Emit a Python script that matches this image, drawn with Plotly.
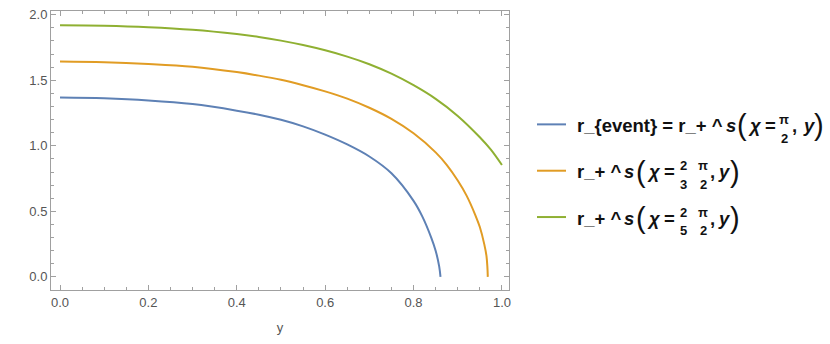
import plotly.graph_objects as go

# Curve data (x = y-coordinate, value = r)
blue_y = [0.0, 0.1, 0.2, 0.3, 0.4, 0.45, 0.5, 0.55, 0.6, 0.65, 0.7, 0.75, 0.8, 0.82,
          0.84, 0.85, 0.858, 0.861]
blue_r = [1.368, 1.362, 1.346, 1.318, 1.268, 1.237, 1.198, 1.148, 1.085, 1.010, 0.918,
          0.790, 0.58, 0.46, 0.30, 0.20, 0.08, 0.0]

orange_y = [0.0, 0.1, 0.2, 0.3, 0.4, 0.45, 0.5, 0.55, 0.6, 0.65, 0.7, 0.75, 0.8, 0.85,
            0.875, 0.9, 0.92, 0.94, 0.95, 0.96, 0.965, 0.967, 0.968]
orange_r = [1.642, 1.637, 1.624, 1.603, 1.562, 1.535, 1.503, 1.462, 1.415, 1.360, 1.290,
            1.205, 1.095, 0.950, 0.855, 0.735, 0.62, 0.47, 0.38, 0.25, 0.16, 0.08, 0.0]

green_y = [0.0, 0.1, 0.2, 0.3, 0.4, 0.45, 0.5, 0.55, 0.6, 0.65, 0.7, 0.75, 0.8, 0.85,
           0.9, 0.95, 0.975, 1.0]
green_r = [1.920, 1.916, 1.905, 1.885, 1.852, 1.830, 1.802, 1.768, 1.728, 1.680, 1.622,
           1.550, 1.462, 1.358, 1.228, 1.065, 0.970, 0.853]

colors = ["#5E81B5", "#E19C24", "#8FB032"]

FONT = "Liberation Sans, Arial, sans-serif"
AX = "#a0a0a0"

fig = go.Figure()
for xs, ys, c in [(blue_y, blue_r, colors[0]), (orange_y, orange_r, colors[1]),
                  (green_y, green_r, colors[2])]:
    fig.add_trace(go.Scatter(x=xs, y=ys, mode="lines", showlegend=False,
                             line=dict(color=c, width=2, shape="spline", smoothing=1.0)))

# plot area in pixels
L, R, T, B = 51, 509, 7, 290
def px(x):
    return (x - L) / (R - L)
def py(y):
    return (B - y) / (B - T)

annotations = []
shapes = []

def txt(text, x, y, size=18.5, bold=True, anchor="left"):
    if bold:
        text = "<b>" + text + "</b>"
    annotations.append(dict(text=text, x=px(x), y=py(y), xref="paper", yref="paper",
                            xanchor=anchor, yanchor="middle", showarrow=False, borderpad=0,
                            font=dict(family=FONT, size=size, color="#111")))

def frac(num, den, x, y):
    txt(num, x, y - 6, size=13, anchor="center")
    txt(den, x, y + 13, size=13, anchor="center")

# legend rows
row_y = [123, 170, 217]
for i, yy in enumerate(row_y):
    shapes.append(dict(type="line", xref="paper", yref="paper", x0=px(537), x1=px(566),
                       y0=py(yy - 1), y1=py(yy - 1), line=dict(color=colors[i], width=2)))

y0 = row_y[0]
txt("r_{event} = r_+ ^", 576, y0)
txt("<i>s</i>", 725, y0)
txt("(", 736, y0, size=29, bold=False)
txt("<i>χ</i>", 747, y0)
txt("=", 764, y0)
frac("π", "2", 784, y0)
txt(",", 791, y0)
txt("<i>y</i>", 802, y0)
txt(")", 813, y0, size=29, bold=False)

for yy, d in [(row_y[1], "3"), (row_y[2], "5")]:
    txt("r_+ ^", 576, yy)
    txt("<i>s</i>", 623, yy)
    txt("(", 634.5, yy, size=29, bold=False)
    txt("<i>χ</i>", 645.5, yy)
    txt("=", 662.5, yy)
    frac("2", d, 683, yy)
    frac("π", "2", 703, yy)
    txt(",", 709, yy)
    txt("<i>y</i>", 717, yy)
    txt(")", 729, yy, size=29, bold=False)

tickfont = dict(family=FONT, size=13, color="#555555")

fig.update_layout(
    width=830, height=344, autosize=False,
    margin=dict(l=L, r=830 - R, t=T, b=344 - B),
    paper_bgcolor="white", plot_bgcolor="white",
    annotations=annotations, shapes=shapes,
    xaxis=dict(
        range=[-0.0204, 1.016], showgrid=False, zeroline=False,
        showline=True, linecolor=AX, linewidth=1, mirror="ticks",
        ticks="inside", ticklen=5, tickcolor=AX, tickwidth=1,
        tick0=0, dtick=0.2, tickformat=".1f", tickfont=tickfont,
        minor=dict(ticks="inside", ticklen=3, tickcolor=AX, tick0=0, dtick=0.05, showgrid=False),
        title=dict(text="y", font=dict(family=FONT, size=13, color="#555555"), standoff=14),
    ),
    yaxis=dict(
        range=[-0.1, 2.028], showgrid=False, zeroline=False,
        showline=True, linecolor=AX, linewidth=1, mirror="ticks",
        ticks="inside", ticklen=5, tickcolor=AX, tickwidth=1,
        tick0=0, dtick=0.5, tickformat=".1f", tickfont=tickfont,
        minor=dict(ticks="inside", ticklen=3, tickcolor=AX, tick0=0, dtick=0.1, showgrid=False),
    ),
)

# drop the default page margin so the figure sits at the window's corner
fig.write_html("out.html", config={"displayModeBar": False},
               post_script="document.body.style.margin='0px';")
